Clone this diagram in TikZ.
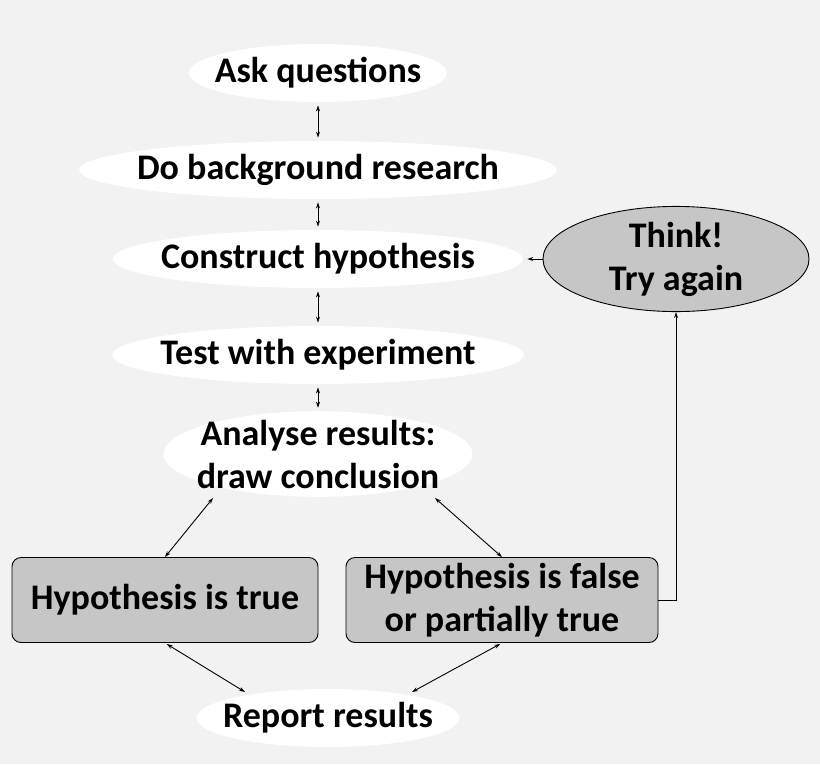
\documentclass[tikz,border=0pt]{standalone}
\usepackage{fontspec}
\setmainfont{Carlito}
\usetikzlibrary{shapes.geometric,arrows.meta,positioning}
\definecolor{bgcol}{HTML}{F2F2F2}
\definecolor{boxcol}{HTML}{C6C6C6}
\tikzset{every picture/.style={line width=0.9pt}}
\tikzset{
  bigfont/.style={font=\bfseries\fontsize{36}{43}\selectfont},
  stepel/.style={ellipse,fill=white,inner xsep=-12pt,inner ysep=2pt,minimum height=58pt,bigfont,align=center},
  resbox/.style={draw,rounded corners=9pt,fill=boxcol,bigfont,align=center,minimum height=85pt},
  link/.style={{Stealth[length=6pt,width=4pt]}-{Stealth[length=6pt,width=4pt]}},
  onelink/.style={-{Stealth[length=6pt,width=4pt]}}
}
\begin{document}
\begin{tikzpicture}[x=1pt,y=-1pt]
\fill[bgcol] (0,0) rectangle (820,764);
\useasboundingbox (0,0) rectangle (820,764);

% Steps
\node[stepel] (ask) at (318,73) {Ask questions};
\node[stepel] (bg) at (318,170) {Do background research};
\node[stepel] (hyp) at (318,259) {Construct hypothesis};
\node[stepel] (test) at (318,355) {Test with experiment};
\node[stepel,inner ysep=-4pt] (ana) at (318,454) {Analyse results:\\draw conclusion};
\node[stepel] (rep) at (328,718) {Report results};

% Outcomes
\node[resbox,minimum width=306pt] (true) at (165,600) {Hypothesis is true};
\node[resbox,minimum width=312pt] (false) at (502,600) {Hypothesis is false\\or partially true};
\node[ellipse,draw,fill=boxcol,minimum width=266pt,minimum height=92pt,inner sep=0pt,
  bigfont,align=center] (think) at (676,259) {Think!\\Try again};

% Links
\draw[link,shorten <=3pt,shorten >=3pt] (ask) -- (bg);
\draw[link,shorten <=3pt,shorten >=3pt] (bg) -- (hyp);
\draw[link,shorten <=3pt,shorten >=3pt] (hyp) -- (test);
\draw[link,shorten <=3pt,shorten >=3pt] (test) -- (ana);
\coordinate (a1) at (213,498);
\coordinate (a2) at (435,498);
\coordinate (r1) at (245,692);
\coordinate (r2) at (412,692);
\draw[link] (a1) -- (true.north);
\draw[link] (a2) -- (false.north);
\draw[link,shorten <=2pt] (true.south) -- (r1);
\draw[link,shorten <=2pt] (false.south) -- (r2);
\draw[onelink] (false.east) -| (think.south);
\draw[onelink,shorten >=4pt] (think.west) -- (hyp.east);
\end{tikzpicture}
\end{document}
